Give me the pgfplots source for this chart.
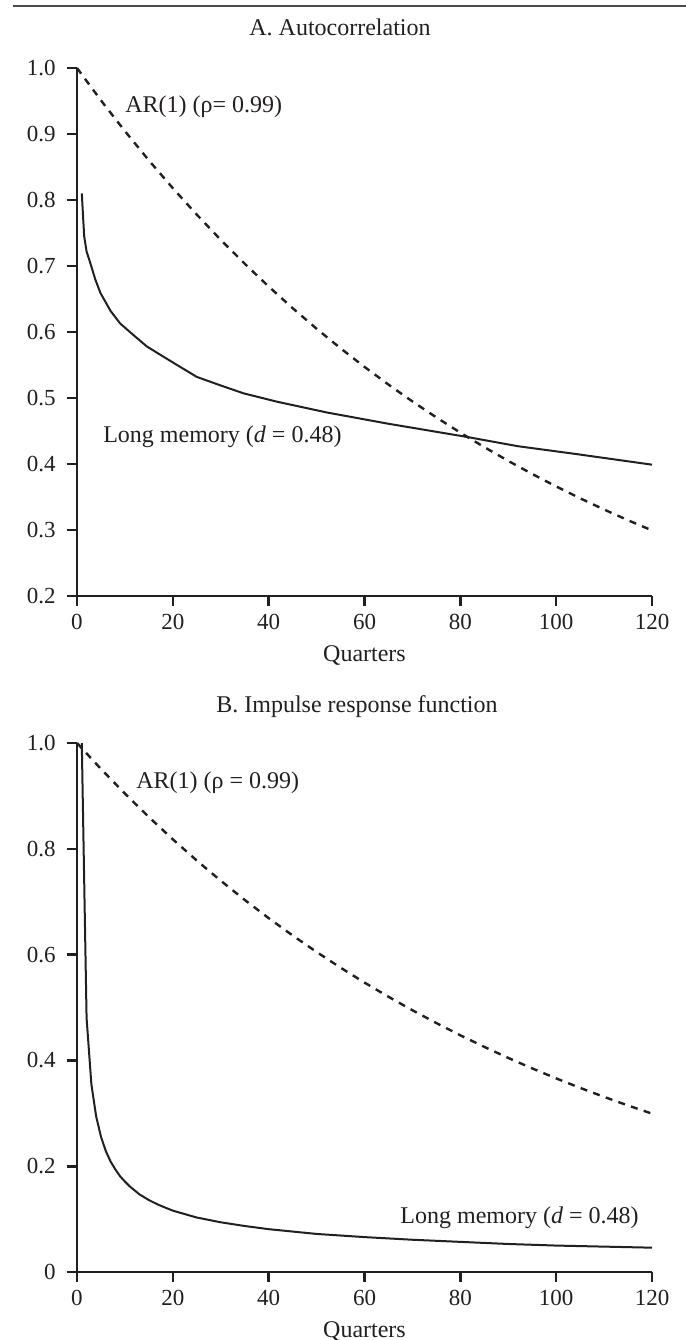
\documentclass[border=0pt]{standalone}
\usepackage{pgfplots}
\pgfplotsset{compat=1.18}
\usepackage{fontspec}
\setmainfont{Liberation Serif}
\definecolor{ink}{RGB}{35,31,32}
\begin{document}
\fontsize{12}{14}\selectfont
\begin{tikzpicture}[x=1pt,y=1pt]
\useasboundingbox (0,0) rectangle (343,-670);
\draw[black!70, line width=0.8pt] (6.5,-3) -- (343,-3);
\pgfplotsset{
  mystyle/.style={
    scale only axis, width=287.5pt,
    xmin=0, xmax=120,
    axis lines*=left,
    xtick pos=bottom, ytick pos=left,
    axis line style={ink, line width=1.3pt},
    major tick style={ink, line width=1.3pt},
    tick align=outside, major tick length=5pt,
    minor tick num=0,
    xtick={0,20,40,60,80,100,120},
    xticklabels={0,20,40,60,80,100,120},
    ticklabel style={font=\fontsize{11.5}{13}\selectfont, text=ink},
    xticklabel style={anchor=north, yshift=0pt},
    yticklabel style={anchor=east, xshift=-1.5pt},
    xlabel={Quarters},
    xlabel style={at={(axis description cs:0.5,0)}, anchor=center, yshift=-29.5pt, font=\fontsize{12}{14}\selectfont, text=ink},
    clip=false,
  },
  lm/.style={ink, line width=1pt, line join=round},
  ar/.style={ink, line width=1.2pt, dash pattern=on 3.5pt off 3.2pt},
}
\node[text=ink, font=\fontsize{12}{14}\selectfont] at (170,-13.5) {A. Autocorrelation};
\node[text=ink, font=\fontsize{12}{14}\selectfont] at (178.5,-353.5) {B. Impulse response function};

\begin{axis}[mystyle, at={(38.5pt,-298pt)}, anchor=south west, height=264pt,
  ymin=0.2, ymax=1.0,
  ytick={0.2,0.3,0.4,0.5,0.6,0.7,0.8,0.9,1.0},
  yticklabels={0.2,0.3,0.4,0.5,0.6,0.7,0.8,0.9,1.0}]
\addplot[ar] coordinates {
(0,1.00000) (5,0.95099) (10,0.90438) (15,0.86006) (20,0.81791) (25,0.77782)
(30,0.73970) (35,0.70345) (40,0.66897) (45,0.63619) (50,0.60501) (55,0.57536)
(60,0.54716) (65,0.52035) (70,0.49484) (75,0.47059) (80,0.44752) (85,0.42559)
(90,0.40473) (95,0.38490) (100,0.36603) (105,0.34809) (110,0.33103) (115,0.31481)
(120,0.29938)};
\addplot[lm] coordinates {
(1,0.810) (1.5,0.745) (2,0.722) (2.8,0.704) (3.8,0.680) (4.9,0.659) (7,0.632)
(9,0.613) (12,0.594) (14.6,0.578) (20.2,0.553) (25,0.532) (30,0.519) (34.8,0.507)
(42,0.494) (52.2,0.478) (65,0.461) (81.4,0.441) (92,0.427) (104.3,0.415) (120,0.399)};
\node[anchor=west, text=ink, font=\fontsize{12}{14}\selectfont, inner sep=0pt] at (axis cs:10,0.941) {AR(1) (ρ= 0.99)};
\node[anchor=west, text=ink, font=\fontsize{12}{14}\selectfont, inner sep=0pt] at (axis cs:5.4,0.441) {Long memory (\textit{d} = 0.48)};
\end{axis}

\begin{axis}[mystyle, at={(38.5pt,-636pt)}, anchor=south west, height=264.5pt,
  ymin=0, ymax=1.0,
  ytick={0,0.2,0.4,0.6,0.8,1.0},
  yticklabels={0,0.2,0.4,0.6,0.8,1.0}]
\addplot[ar] coordinates {
(0,1.00000) (5,0.95099) (10,0.90438) (15,0.86006) (20,0.81791) (25,0.77782)
(30,0.73970) (35,0.70345) (40,0.66897) (45,0.63619) (50,0.60501) (55,0.57536)
(60,0.54716) (65,0.52035) (70,0.49484) (75,0.47059) (80,0.44752) (85,0.42559)
(90,0.40473) (95,0.38490) (100,0.36603) (105,0.34809) (110,0.33103) (115,0.31481)
(120,0.29938)};
\addplot[lm] coordinates {
(1,1.000) (2,0.480) (3,0.355) (4,0.294) (5,0.256) (6,0.229) (7,0.209) (8,0.194)
(9,0.181) (10,0.171) (11,0.162) (13,0.147) (15,0.136) (17,0.127) (20,0.116)
(25,0.103) (30,0.094) (35,0.087) (40,0.081) (50,0.072) (60,0.066) (70,0.061)
(80,0.057) (90,0.053) (100,0.050) (110,0.048) (120,0.046)};
\node[anchor=west, text=ink, font=\fontsize{12}{14}\selectfont, inner sep=0pt] at (axis cs:12.3,0.925) {AR(1) (ρ = 0.99)};
\node[anchor=east, text=ink, font=\fontsize{12}{14}\selectfont, inner sep=0pt] at (axis cs:117.3,0.102) {Long memory (\textit{d} = 0.48)};
\end{axis}
\end{tikzpicture}
\end{document}
